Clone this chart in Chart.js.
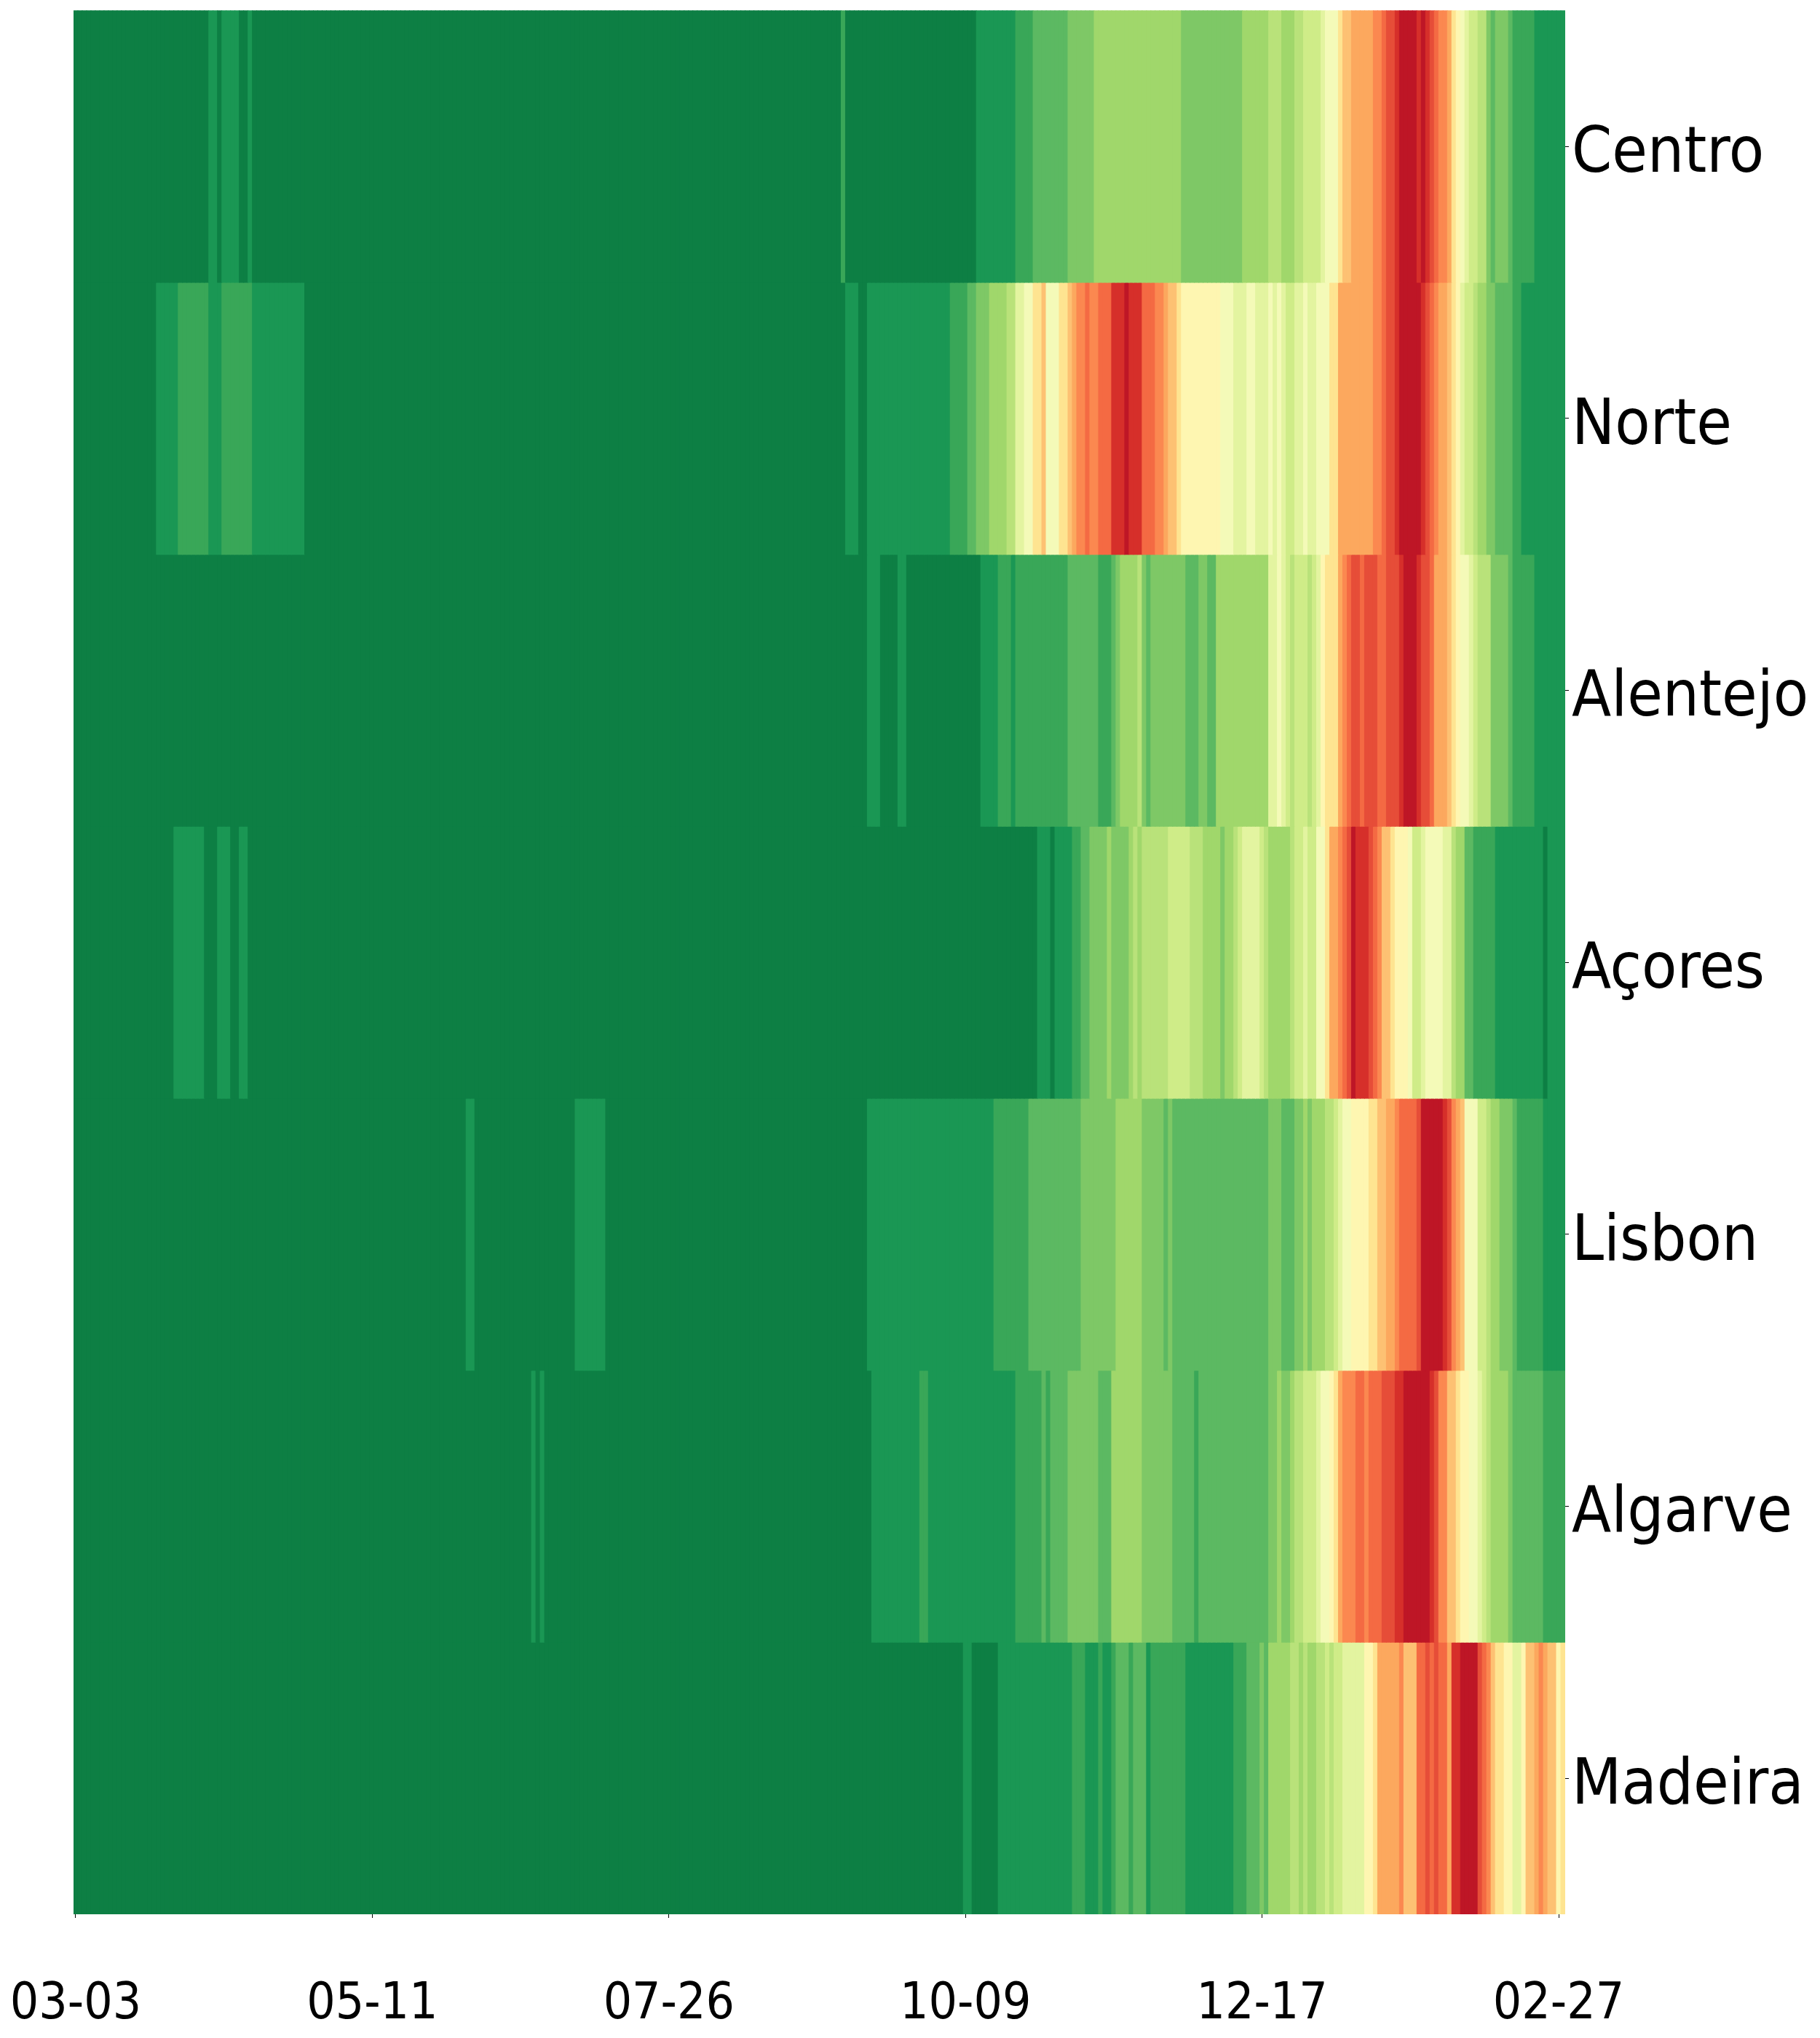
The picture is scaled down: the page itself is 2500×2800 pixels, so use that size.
<!DOCTYPE html>
<html>
<head>
<meta charset="utf-8">
<title>Regions heatmap</title>
<script src="https://cdn.jsdelivr.net/npm/chart.js@4"></script>
<style>
  html, body { margin: 0; padding: 0; background: #fff; }
  canvas { display: block; }
</style>
</head>
<body>
<canvas id="heat" width="2500" height="2800"></canvas>
<script>
/* heat level of each day per region, 0 = lowest, 18 = highest; 20 days per line */
var centro = [
  0,0,0,0,0,0,0,0,0,0,0,0,0,0,0,0,0,0,0,0,
  0,0,0,0,0,0,0,0,0,0,0,1,1,0,1,1,1,1,0,0,
  1,0,0,0,0,0,0,0,0,0,0,0,0,0,0,0,0,0,0,0,
  0,0,0,0,0,0,0,0,0,0,0,0,0,0,0,0,0,0,0,0,
  0,0,0,0,0,0,0,0,0,0,0,0,0,0,0,0,0,0,0,0,
  0,0,0,0,0,0,0,0,0,0,0,0,0,0,0,0,0,0,0,0,
  0,0,0,0,0,0,0,0,0,0,0,0,0,0,0,0,0,0,0,0,
  0,0,0,0,0,0,0,0,0,0,0,0,0,0,0,0,0,0,0,0,
  0,0,0,0,0,0,0,0,0,0,0,0,0,0,0,0,2,0,0,0,
  0,0,0,0,0,0,0,0,0,0,0,0,0,0,0,0,0,0,0,0,
  0,0,0,0,0,0,0,1,1,1,1,1,1,1,1,1,2,2,2,2,
  3,3,3,3,3,3,3,3,4,4,4,4,4,4,5,5,5,5,5,5,
  5,5,5,5,5,5,5,5,5,5,5,5,5,5,4,4,4,4,4,4,
  4,4,4,4,4,4,4,4,5,5,5,5,5,5,6,6,6,5,5,5,
  6,6,7,7,7,7,8,9,9,9,11,12,12,13,13,13,13,13,14,14,
  15,16,16,17,18,18,18,18,17,18,17,16,15,14,14,13,11,10,9,8,
  7,7,6,6,4,3,4,4,4,3,2,2,2,2,2,1,1,1,1,1,1,1
];
var norte = [
  0,0,0,0,0,0,0,0,0,0,0,0,0,0,0,0,0,0,0,1,
  1,1,1,1,2,2,2,2,2,2,2,1,1,1,2,2,2,2,2,2,
  2,1,1,1,1,1,1,1,1,1,1,1,1,0,0,0,0,0,0,0,
  0,0,0,0,0,0,0,0,0,0,0,0,0,0,0,0,0,0,0,0,
  0,0,0,0,0,0,0,0,0,0,0,0,0,0,0,0,0,0,0,0,
  0,0,0,0,0,0,0,0,0,0,0,0,0,0,0,0,0,0,0,0,
  0,0,0,0,0,0,0,0,0,0,0,0,0,0,0,0,0,0,0,0,
  0,0,0,0,0,0,0,0,0,0,0,0,0,0,0,0,0,0,0,0,
  0,0,0,0,0,0,0,0,0,0,0,0,0,0,0,0,0,1,1,1,
  0,0,1,1,1,1,1,1,1,1,1,1,1,1,1,1,1,1,1,1,
  1,2,2,2,2,3,3,4,4,4,5,5,5,5,6,6,8,8,9,9,
  11,11,12,9,9,9,11,11,12,13,14,14,15,14,14,15,15,15,17,17,
  17,18,17,17,17,15,15,15,14,14,13,12,12,11,10,10,10,10,10,10,
  10,10,10,9,9,9,8,8,8,9,9,8,8,8,9,8,9,8,7,7,
  8,8,9,8,8,9,9,9,11,11,13,13,13,13,13,13,13,13,14,14,
  15,16,16,17,18,18,18,18,18,17,16,15,14,13,13,12,11,10,8,7,
  7,6,5,5,4,4,3,3,3,3,2,2,1,1,1,1,1,1,1,1,1,1
];
var alentejo = [
  0,0,0,0,0,0,0,0,0,0,0,0,0,0,0,0,0,0,0,0,
  0,0,0,0,0,0,0,0,0,0,0,0,0,0,0,0,0,0,0,0,
  0,0,0,0,0,0,0,0,0,0,0,0,0,0,0,0,0,0,0,0,
  0,0,0,0,0,0,0,0,0,0,0,0,0,0,0,0,0,0,0,0,
  0,0,0,0,0,0,0,0,0,0,0,0,0,0,0,0,0,0,0,0,
  0,0,0,0,0,0,0,0,0,0,0,0,0,0,0,0,0,0,0,0,
  0,0,0,0,0,0,0,0,0,0,0,0,0,0,0,0,0,0,0,0,
  0,0,0,0,0,0,0,0,0,0,0,0,0,0,0,0,0,0,0,0,
  0,0,0,0,0,0,0,0,0,0,0,0,0,0,0,0,0,0,0,0,
  0,0,1,1,1,0,0,0,0,1,1,0,0,0,0,0,0,0,0,0,
  0,0,0,0,0,0,0,0,1,1,1,1,2,2,2,1,2,2,2,2,
  2,2,2,2,2,2,2,2,3,3,3,3,3,3,3,2,2,2,3,4,
  5,5,5,5,6,4,3,4,4,4,4,4,4,4,4,3,3,3,4,4,
  3,3,5,5,5,5,5,5,5,5,5,5,5,5,8,8,9,8,7,6,
  7,7,7,6,7,8,10,11,11,11,13,14,15,16,16,15,16,16,16,15,
  15,16,16,16,17,18,18,18,17,16,16,15,13,13,13,12,11,10,9,9,
  8,7,6,6,6,4,4,4,4,3,2,2,2,2,2,1,1,1,1,1,1,1
];
var acores = [
  0,0,0,0,0,0,0,0,0,0,0,0,0,0,0,0,0,0,0,0,
  0,0,0,1,1,1,1,1,1,1,0,0,0,1,1,1,0,0,1,1,
  0,0,0,0,0,0,0,0,0,0,0,0,0,0,0,0,0,0,0,0,
  0,0,0,0,0,0,0,0,0,0,0,0,0,0,0,0,0,0,0,0,
  0,0,0,0,0,0,0,0,0,0,0,0,0,0,0,0,0,0,0,0,
  0,0,0,0,0,0,0,0,0,0,0,0,0,0,0,0,0,0,0,0,
  0,0,0,0,0,0,0,0,0,0,0,0,0,0,0,0,0,0,0,0,
  0,0,0,0,0,0,0,0,0,0,0,0,0,0,0,0,0,0,0,0,
  0,0,0,0,0,0,0,0,0,0,0,0,0,0,0,0,0,0,0,0,
  0,0,0,0,0,0,0,0,0,0,0,0,0,0,0,0,0,0,0,0,
  0,0,0,0,0,0,0,0,0,0,0,0,0,0,0,0,0,0,0,0,
  0,1,1,1,0,1,1,1,1,2,2,3,3,4,4,4,4,5,4,4,
  4,4,5,6,5,6,6,6,6,6,6,7,7,7,7,7,6,6,6,5,
  5,5,5,4,5,5,6,7,8,8,8,8,7,6,5,5,5,5,5,6,
  7,7,8,7,7,9,9,11,13,13,14,15,16,18,17,17,17,16,15,14,
  12,12,11,10,10,10,9,7,7,8,9,9,9,9,8,8,6,5,5,3,
  3,2,2,2,2,2,1,1,1,1,1,1,1,1,1,1,1,0,1,1,1,1
];
var lisbon = [
  0,0,0,0,0,0,0,0,0,0,0,0,0,0,0,0,0,0,0,0,
  0,0,0,0,0,0,0,0,0,0,0,0,0,0,0,0,0,0,0,0,
  0,0,0,0,0,0,0,0,0,0,0,0,0,0,0,0,0,0,0,0,
  0,0,0,0,0,0,0,0,0,0,0,0,0,0,0,0,0,0,0,0,
  0,0,0,0,0,0,0,0,0,0,1,1,0,0,0,0,0,0,0,0,
  0,0,0,0,0,0,0,0,0,0,0,0,0,0,0,1,1,1,1,1,
  1,1,0,0,0,0,0,0,0,0,0,0,0,0,0,0,0,0,0,0,
  0,0,0,0,0,0,0,0,0,0,0,0,0,0,0,0,0,0,0,0,
  0,0,0,0,0,0,0,0,0,0,0,0,0,0,0,0,0,0,0,0,
  0,0,1,1,1,1,1,1,1,1,1,1,1,1,1,1,1,1,1,1,
  1,1,1,1,1,1,1,1,1,1,1,2,2,2,2,2,2,2,2,3,
  3,3,3,3,3,3,3,3,3,3,3,4,4,4,4,4,4,4,4,5,
  5,5,5,5,5,4,4,4,4,4,3,4,3,3,3,3,3,3,3,3,
  3,3,3,3,3,3,3,3,3,3,3,3,3,3,4,4,4,3,3,3,
  4,4,5,4,5,5,5,6,6,7,8,9,9,10,10,10,10,11,11,12,
  12,13,13,14,15,15,15,15,16,18,18,18,18,18,17,16,14,13,12,9,
  9,9,7,7,6,5,5,4,4,4,3,2,2,2,2,2,2,1,1,1,1,1
];
var algarve = [
  0,0,0,0,0,0,0,0,0,0,0,0,0,0,0,0,0,0,0,0,
  0,0,0,0,0,0,0,0,0,0,0,0,0,0,0,0,0,0,0,0,
  0,0,0,0,0,0,0,0,0,0,0,0,0,0,0,0,0,0,0,0,
  0,0,0,0,0,0,0,0,0,0,0,0,0,0,0,0,0,0,0,0,
  0,0,0,0,0,0,0,0,0,0,0,0,0,0,0,0,0,0,0,0,
  0,0,0,0,0,1,0,1,0,0,0,0,0,0,0,0,0,0,0,0,
  0,0,0,0,0,0,0,0,0,0,0,0,0,0,0,0,0,0,0,0,
  0,0,0,0,0,0,0,0,0,0,0,0,0,0,0,0,0,0,0,0,
  0,0,0,0,0,0,0,0,0,0,0,0,0,0,0,0,0,0,0,0,
  0,0,0,1,1,1,1,1,1,1,1,1,1,1,2,2,1,1,1,1,
  1,1,1,1,1,1,1,1,1,1,1,1,1,1,1,1,2,2,2,2,
  2,2,3,2,3,3,3,3,4,4,4,4,4,4,4,3,3,3,5,5,
  5,5,5,5,5,4,4,4,4,4,4,4,3,3,3,3,3,2,3,3,
  3,3,3,3,3,3,3,3,3,3,3,3,3,3,4,4,5,4,4,5,
  6,6,7,7,7,8,9,9,10,11,13,14,14,14,15,15,14,15,15,15,
  16,16,16,17,17,18,18,18,18,18,18,17,16,14,14,12,12,11,10,10,
  9,9,8,7,6,5,5,5,5,4,3,3,3,3,3,3,3,2,2,2,2,2
];
var madeira = [
  0,0,0,0,0,0,0,0,0,0,0,0,0,0,0,0,0,0,0,0,
  0,0,0,0,0,0,0,0,0,0,0,0,0,0,0,0,0,0,0,0,
  0,0,0,0,0,0,0,0,0,0,0,0,0,0,0,0,0,0,0,0,
  0,0,0,0,0,0,0,0,0,0,0,0,0,0,0,0,0,0,0,0,
  0,0,0,0,0,0,0,0,0,0,0,0,0,0,0,0,0,0,0,0,
  0,0,0,0,0,0,0,0,0,0,0,0,0,0,0,0,0,0,0,0,
  0,0,0,0,0,0,0,0,0,0,0,0,0,0,0,0,0,0,0,0,
  0,0,0,0,0,0,0,0,0,0,0,0,0,0,0,0,0,0,0,0,
  0,0,0,0,0,0,0,0,0,0,0,0,0,0,0,0,0,0,0,0,
  0,0,0,0,0,0,0,0,0,0,0,0,0,0,0,0,0,0,0,0,
  0,0,0,0,1,1,0,0,0,0,0,0,1,1,1,1,1,1,1,1,
  1,1,1,1,1,1,1,1,1,2,2,2,1,1,1,2,1,1,2,3,
  3,3,2,3,3,3,1,2,2,2,2,2,2,2,2,1,1,1,1,1,
  1,1,1,1,1,1,2,2,2,3,3,3,4,3,5,5,5,5,5,6,
  6,5,6,5,5,6,6,7,6,7,7,8,8,8,8,8,10,10,11,13,
  13,13,13,13,14,12,12,12,15,15,16,15,16,15,15,13,17,17,18,18,
  18,18,16,15,14,12,11,11,10,10,8,8,10,12,12,13,14,13,12,12,10,11
];

var regions    = ['Centro', 'Norte', 'Alentejo', 'Açores', 'Lisbon', 'Algarve', 'Madeira'];
var tickDays   = [0, 68, 136, 204, 272, 340];
var tickLabels = ['03-03', '05-11', '07-26', '10-09', '12-17', '02-27'];

// colours of the levels (RdYlGn_r family)
var levelColors = [
  '#0d7f44', '#1a9754', '#39a758', '#5cb962', '#7ec866', '#a0d76b', '#b9e27a',
  '#cfec88', '#e3f4a0', '#f4fab8', '#fef6b1', '#fee491', '#fdc173', '#fca85e',
  '#fb8850', '#f46a43', '#e64d38', '#d62f2a', '#be1626'
];

var rows = [centro, norte, alentejo, acores, lisbon, algarve, madeira];
var FONT = '"DejaVu Sans Condensed", "DejaVu Sans", sans-serif';

// region names sit a little under their tick mark
var nudgeRegionLabels = {
  id: 'nudgeRegionLabels',
  afterLayout: function (chart) {
    chart.scales.y.getLabelItems().forEach(function (item) {
      item.options.translation[1] += 12;
    });
  }
};

new Chart(document.getElementById('heat'), {
  type: 'bar',
  data: {
    labels: centro.map(function (v, i) { return i; }),
    datasets: rows.map(function (row, r) {
      return {
        label: regions[r],
        data: row.map(function () { return 1; }),   // every cell is one row tall
        backgroundColor: row.map(function (lvl) { return levelColors[lvl]; }),
        borderWidth: 0,
        inflateAmount: 0.5,
        categoryPercentage: 1,
        barPercentage: 1
      };
    })
  },
  plugins: [nudgeRegionLabels],
  options: {
    responsive: false,
    animation: false,
    devicePixelRatio: 1,
    layout: { padding: { left: 101, right: 0, top: 14.33, bottom: 0 } },
    plugins: { legend: { display: false }, tooltip: { enabled: false } },
    scales: {
      x: {
        stacked: true,
        grid: { display: true, offset: false, drawOnChartArea: false, drawTicks: true, tickLength: 5, tickColor: '#000', tickWidth: 1 },
        border: { display: false },
        ticks: {
          autoSkip: false,
          maxRotation: 0,
          minRotation: 0,
          padding: 79,
          color: '#000',
          font: { family: FONT, size: 69 },
          callback: function (v) { return tickLabels[tickDays.indexOf(v)]; }
        },
        afterBuildTicks: function (scale) {
          scale.ticks = tickDays.map(function (d) { return { value: d }; });
        },
        afterFit: function (scale) {
          scale.height = 170;
          scale.paddingLeft = 0;
          scale.paddingRight = 0;
        }
      },
      y: {
        stacked: true,
        reverse: true,
        position: 'right',
        min: 0,
        max: 7,
        grid: { display: true, drawOnChartArea: false, drawTicks: true, tickLength: 5, tickColor: '#000', tickWidth: 1 },
        border: { display: false },
        ticks: {
          padding: 4,
          color: '#000',
          font: { family: FONT, size: 88 },
          callback: function (v) { return regions[Math.floor(v)]; }
        },
        afterBuildTicks: function (scale) {
          scale.ticks = regions.map(function (n, i) { return { value: i + 0.5 }; });
        },
        afterFit: function (scale) {
          scale.width = 350;
          scale.paddingTop = 0;
          scale.paddingBottom = 0;
        }
      }
    }
  }
});
</script>
</body>
</html>
